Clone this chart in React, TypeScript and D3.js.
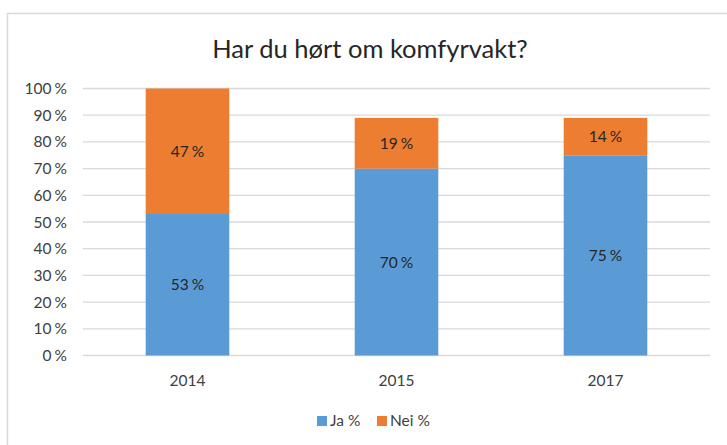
import * as d3 from "d3";
import React from "react";

// Data
const years = ["2014", "2015", "2017"];
const ja = [53, 70, 75];
const nei = [47, 19, 14];
const seriesNames = ["Ja %", "Nei %"];
const colors = ["#5B9BD5", "#ED7D31"];
const yTicks = [0, 10, 20, 30, 40, 50, 60, 70, 80, 90, 100];

const W = 727;
const H = 445;
const font = "Lato, 'Open Sans', sans-serif";

function App() {
  const x = d3
    .scaleBand<string>()
    .domain(years)
    .range([83, 710])
    .paddingInner(0.6)
    .paddingOuter(0.3);

  const y = d3.scaleLinear().domain([0, 100]).range([355.5, 88.5]);

  const rows = years.map((yr, i) => ({ year: yr, ja: ja[i], nei: nei[i] }));
  const stacked = d3.stack<any>().keys(["ja", "nei"])(rows);

  return (
    <svg
      width={W}
      height={H}
      style={{ position: "absolute", left: 0, top: 0, background: "#fff" }}
    >
      {/* chart border */}
      <path d={`M7.5,${H} V13.5 H${W}`} fill="none" stroke="#D9D9D9" strokeWidth={1.5} />

      <text x={370} y={58} textAnchor="middle" fontFamily={font} fontSize={25.5} fill="#262626">
        Har du hørt om komfyrvakt?
      </text>

      {/* gridlines + y labels */}
      {yTicks.map((t) => (
        <g key={t}>
          <line x1={83} x2={710} y1={y(t)} y2={y(t)} stroke="#D9D9D9" strokeWidth={1.3} />
          <text
            x={67}
            y={y(t)}
            dy="0.36em"
            textAnchor="end"
            fontFamily={font}
            fontSize={15.5}
            fill="#404040"
          >
            {t}
            <tspan dx={-1}> %</tspan>
          </text>
        </g>
      ))}

      {/* bars */}
      {stacked.map((s, si) => (
        <g key={s.key} fill={colors[si]}>
          {s.map((d: any) => (
            <g key={d.data.year}>
              <rect
                x={x(d.data.year)}
                y={y(d[1])}
                width={x.bandwidth()}
                height={y(d[0]) - y(d[1])}
              />
              <text
                x={(x(d.data.year) as number) + x.bandwidth() / 2}
                y={(y(d[0]) + y(d[1])) / 2}
                dy="0.36em"
                textAnchor="middle"
                fontFamily={font}
                fontSize={15.5}
                fill="#262626"
              >
                {d[1] - d[0]}
                <tspan dx={-1}> %</tspan>
              </text>
            </g>
          ))}
        </g>
      ))}

      {/* x labels */}
      {years.map((yr) => (
        <text
          key={yr}
          x={(x(yr) as number) + x.bandwidth() / 2}
          y={386}
          textAnchor="middle"
          fontFamily={font}
          fontSize={15.5}
          fill="#404040"
        >
          {yr}
        </text>
      ))}

      {/* legend */}
      {seriesNames.map((n, i) => {
        const lx = i === 0 ? 317 : 377;
        return (
          <g key={n}>
            <rect x={lx} y={416} width={10} height={10} fill={colors[i]} />
            <text x={lx + 13} y={426} fontFamily={font} fontSize={15.5} fill="#404040">
              {n}
            </text>
          </g>
        );
      })}
    </svg>
  );
}

export default App;
